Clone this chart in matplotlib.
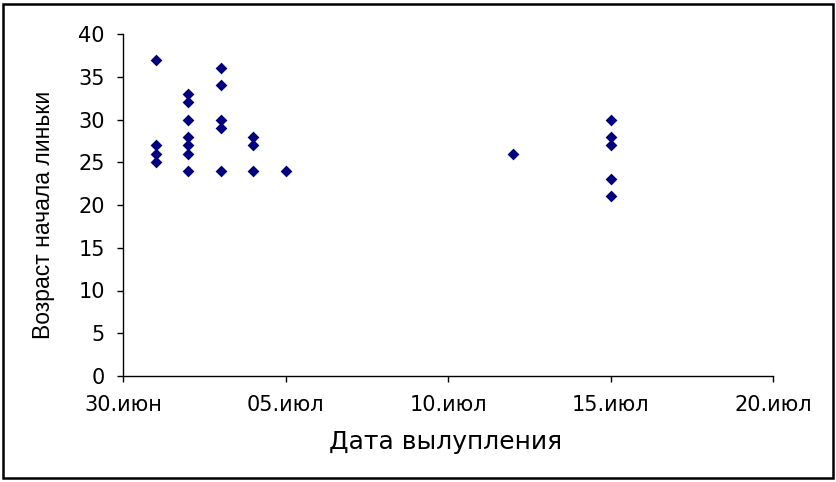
import matplotlib
matplotlib.use("Agg")
import matplotlib.pyplot as plt
import matplotlib.dates as mdates
from matplotlib.patches import Rectangle
import datetime as dt

# Data: hatch date (day of July 2000) and age at moult start
hatch_dates = ["2000-07-01"] * 4 + ["2000-07-02"] * 7 + ["2000-07-03"] * 5 + \
              ["2000-07-04"] * 3 + ["2000-07-05"] + ["2000-07-12"] + ["2000-07-15"] * 5
moult_age = [37, 27, 26, 25,
             33, 32, 30, 28, 27, 26, 24,
             36, 34, 30, 29, 24,
             28, 27, 24,
             24,
             26,
             30, 28, 27, 23, 21]

tick_dates = ["2000-06-30", "2000-07-05", "2000-07-10", "2000-07-15", "2000-07-20"]
tick_labels = ["30.июн", "05.июл", "10.июл", "15.июл", "20.июл"]
y_ticks = [0, 5, 10, 15, 20, 25, 30, 35, 40]

plt.rcParams['font.family'] = ['DejaVu Sans']

fig = plt.figure(figsize=(8.37, 4.82), dpi=100)
ax = fig.add_axes([123 / 837, 106 / 482, 650 / 837, 342 / 482])

x = mdates.date2num([dt.datetime.strptime(d, "%Y-%m-%d") for d in hatch_dates])
xt = mdates.date2num([dt.datetime.strptime(d, "%Y-%m-%d") for d in tick_dates])

ax.scatter(x, moult_age, marker='D', s=36, color='#000080', edgecolors='#000080',
           linewidths=0, zorder=3, clip_on=False)

ax.set_xlim(xt[0], xt[-1])
ax.set_ylim(0, 40)
ax.set_xticks(xt)
ax.set_xticklabels(tick_labels)
ax.set_yticks(y_ticks)

for s in ['top', 'right']:
    ax.spines[s].set_visible(False)
for s in ['left', 'bottom']:
    ax.spines[s].set_linewidth(1.0)
    ax.spines[s].set_color('black')

ax.tick_params(axis='both', direction='out', length=4, width=1, labelsize=15, colors='black')
ax.tick_params(axis='x', pad=10)
ax.tick_params(axis='y', pad=9)

ax.set_xlabel("Дата вылупления", fontsize=18)
ax.set_ylabel("Возраст начала линьки", fontsize=16.5,
              family=['Liberation Sans', 'DejaVu Sans'])
ax.xaxis.set_label_coords(0.497, -0.158)
ax.yaxis.set_label_coords(-0.105, 0.47)

fig.patches.append(Rectangle((3 / 837, 4 / 482), 830 / 837, 474 / 482,
                             transform=fig.transFigure, fill=False,
                             edgecolor='black', linewidth=1.8))

fig.savefig("out.png", dpi=100)
